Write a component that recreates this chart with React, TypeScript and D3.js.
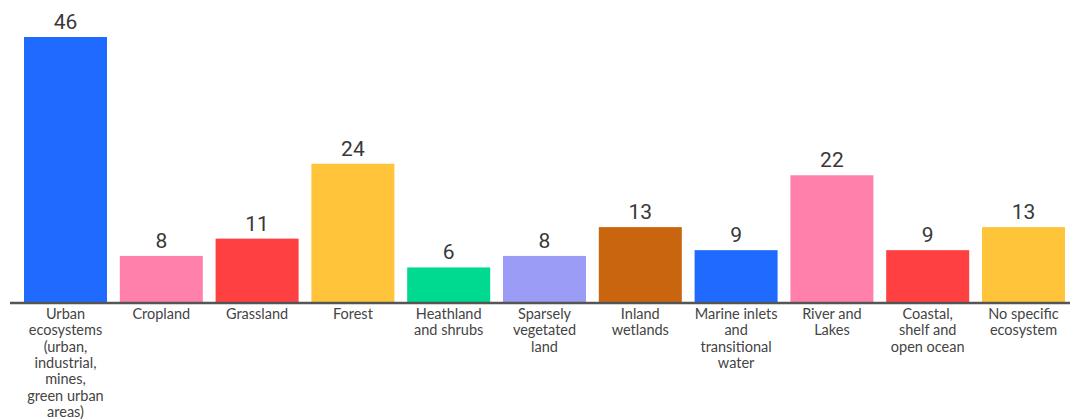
import React from "react";
import * as d3 from "d3";

const categories = [
  "Urban\necosystems\n(urban,\nindustrial,\nmines,\ngreen urban\nareas)",
  "Cropland",
  "Grassland",
  "Forest",
  "Heathland\nand shrubs",
  "Sparsely\nvegetated\nland",
  "Inland\nwetlands",
  "Marine inlets\nand\ntransitional\nwater",
  "River and\nLakes",
  "Coastal,\nshelf and\nopen ocean",
  "No specific\necosystem",
];
const values = [46, 8, 11, 24, 6, 8, 13, 9, 22, 9, 13];
const colors = [
  "#1F6BFF",
  "#FF80AA",
  "#FF4040",
  "#FFC43A",
  "#00D990",
  "#9A9CF5",
  "#C9650E",
  "#1F6BFF",
  "#FF80AA",
  "#FF4040",
  "#FFC43A",
];

const W = 1070;
const H = 419;
const FONT = "Lato, 'DejaVu Sans', sans-serif";
const NUM_FONT = "Roboto, 'Liberation Sans', sans-serif";

export default function App() {
  const step = 95.8;
  const gap = 12.8;
  const x = d3
    .scaleBand<string>()
    .domain(categories)
    .range([24 - gap / 2, 24 - gap / 2 + categories.length * step])
    .paddingInner(gap / step)
    .paddingOuter(gap / 2 / step);
  const y = d3.scaleLinear().domain([0, 46]).range([302, 37]);
  const base = y(0);

  return (
    <svg
      width={W}
      height={H}
      style={{ position: "absolute", left: 0, top: 0, background: "#fff" }}
    >
      {categories.map((c, i) => {
        const x0 = x(c)!;
        const bw = x.bandwidth();
        const cx = x0 + bw / 2;
        return (
          <g key={i}>
            <rect x={x0} y={y(values[i])} width={bw} height={base - y(values[i])} fill={colors[i]} />
            <text
              x={cx}
              y={y(values[i]) - 8}
              textAnchor="middle"
              fontFamily={NUM_FONT}
              fontSize={21}
              fontWeight={400}
              fill="#383838"
            >
              {values[i]}
            </text>
            {c.split("\n").map((line, j) => (
              <text
                key={j}
                x={cx}
                y={319 + j * 16.3}
                textAnchor="middle"
                fontFamily={FONT}
                fontSize={14.5}
                fill="#444"
              >
                {line}
              </text>
            ))}
          </g>
        );
      })}
      <line x1={10} x2={W} y1={base + 1} y2={base + 1} stroke="#555" strokeWidth={2.5} />
    </svg>
  );
}
